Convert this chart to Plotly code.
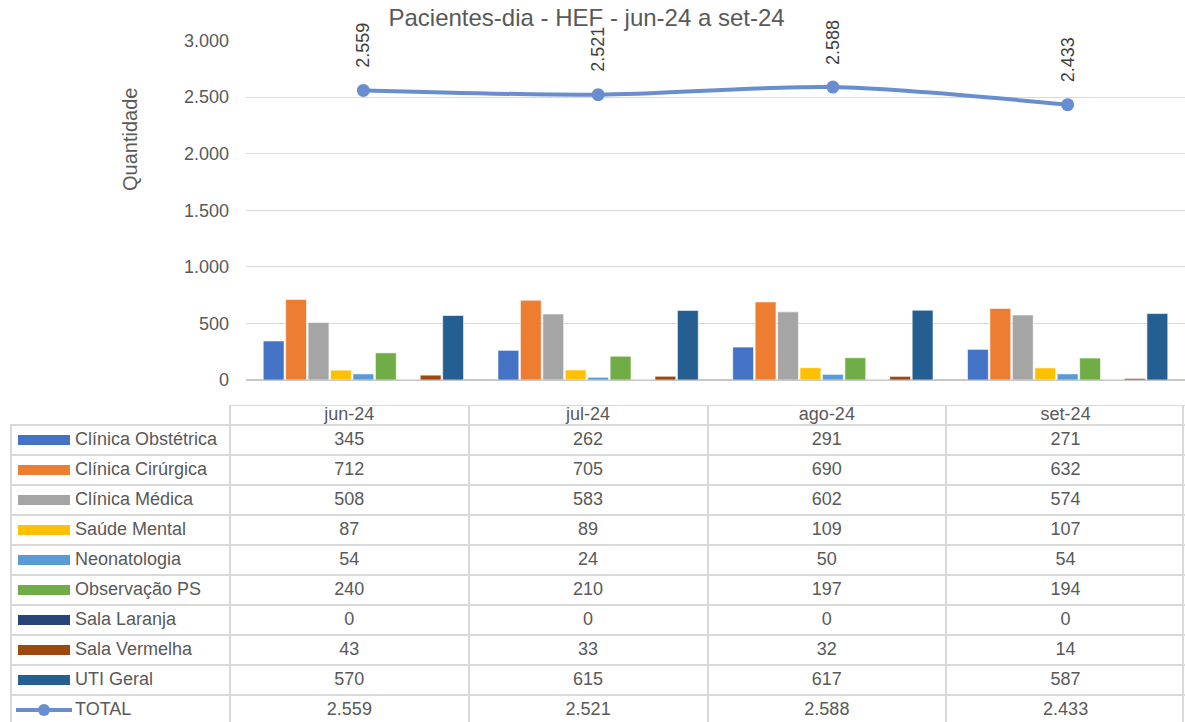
import plotly.graph_objects as go

months = ["jun-24", "jul-24", "ago-24", "set-24"]
series_names = ["Clínica Obstétrica", "Clínica Cirúrgica", "Clínica Médica", "Saúde Mental",
                "Neonatologia", "Observação PS", "Sala Laranja", "Sala Vermelha", "UTI Geral"]
clin_obstetrica = [345, 262, 291, 271]
clin_cirurgica = [712, 705, 690, 632]
clin_medica = [508, 583, 602, 574]
saude_mental = [87, 89, 109, 107]
neonatologia = [54, 24, 50, 54]
observacao_ps = [240, 210, 197, 194]
sala_laranja = [0, 0, 0, 0]
sala_vermelha = [43, 33, 32, 14]
uti_geral = [570, 615, 617, 587]
total = [2559, 2521, 2588, 2433]

series_values = [clin_obstetrica, clin_cirurgica, clin_medica, saude_mental, neonatologia,
                 observacao_ps, sala_laranja, sala_vermelha, uti_geral]
colors = ["#4472C4", "#ED7D31", "#A5A5A5", "#FFC000", "#5B9BD5", "#70AD47",
          "#264478", "#9E480E", "#255E91"]
total_color = "#698ED0"
text_color = "#595959"
grid_color = "#D9D9D9"
FONT = "Liberation Sans, Arial, sans-serif"

W, H = 1185, 722


def fmt(v):
    return f"{v:,}".replace(",", ".")


fig = go.Figure()

# ---- main chart ----
for name, vals, col in zip(series_names, series_values, colors):
    fig.add_trace(go.Bar(x=months, y=vals, name=name,
                         marker=dict(color=col, line=dict(color="rgba(255,255,255,0.6)", width=1)),
                         xaxis="x", yaxis="y", showlegend=False))

fig.add_trace(go.Scatter(x=months, y=total, mode="lines+markers", name="TOTAL",
                         line=dict(color=total_color, width=4, shape="spline", smoothing=0.8),
                         marker=dict(size=13, color=total_color),
                         xaxis="x", yaxis="y", showlegend=False, cliponaxis=False))

annotations = []
for m, t in zip(months, total):
    annotations.append(dict(x=m, y=t, xref="x", yref="y", text=fmt(t), showarrow=False,
                            textangle=-90, yanchor="middle", xanchor="center", yshift=45,
                            font=dict(family=FONT, size=18, color="#404040")))

# ---- table (second axis pair) ----
px_per_col = (W - 230) / len(months)
label_left = -0.5 - (230 - 10) / px_per_col
n_rows = len(series_names) + 1
row_labels = series_names + ["TOTAL"]
row_vals = series_values + [total]
header_top = -0.5 - 20 / 30

xi = list(range(len(months)))
# header
fig.add_trace(go.Scatter(x=xi, y=[-0.5 - 10 / 30] * len(months), mode="text", text=months,
                         textfont=dict(family=FONT, size=18, color=text_color),
                         xaxis="x2", yaxis="y2", showlegend=False, hoverinfo="skip"))
# values
for r, vals in enumerate(row_vals):
    fig.add_trace(go.Scatter(x=xi, y=[r] * len(vals), mode="text", text=[fmt(v) for v in vals],
                             textfont=dict(family=FONT, size=18, color=text_color),
                             xaxis="x2", yaxis="y2", showlegend=False, hoverinfo="skip"))
# row labels
key_x0 = label_left + 8 / px_per_col
key_x1 = label_left + 60 / px_per_col
text_x = label_left + 65 / px_per_col
fig.add_trace(go.Scatter(x=[text_x] * n_rows, y=list(range(n_rows)), mode="text", text=row_labels,
                         textposition="middle right",
                         textfont=dict(family=FONT, size=18, color=text_color),
                         xaxis="x2", yaxis="y2", showlegend=False, hoverinfo="skip"))
# legend keys
for r, col in enumerate(colors):
    fig.add_trace(go.Scatter(x=[key_x0, key_x1], y=[r, r], mode="lines",
                             line=dict(color=col, width=10),
                             xaxis="x2", yaxis="y2", showlegend=False, hoverinfo="skip"))
fig.add_trace(go.Scatter(x=[key_x0 - 2 / px_per_col, key_x1 + 2 / px_per_col], y=[n_rows - 1] * 2, mode="lines",
                         line=dict(color=total_color, width=4),
                         xaxis="x2", yaxis="y2", showlegend=False, hoverinfo="skip"))
fig.add_trace(go.Scatter(x=[(key_x0 + key_x1) / 2], y=[n_rows - 1], mode="markers",
                         marker=dict(color=total_color, size=12),
                         xaxis="x2", yaxis="y2", showlegend=False, hoverinfo="skip"))

shapes = [
    dict(type="line", xref="x2", yref="y2", x0=-0.5, x1=len(months) - 0.5, y0=header_top, y1=header_top,
         line=dict(color=grid_color, width=2)),
    dict(type="line", xref="x2", yref="y2", x0=label_left + 1 / px_per_col, x1=label_left + 1 / px_per_col,
         y0=-0.5, y1=n_rows, line=dict(color=grid_color, width=2)),
    dict(type="line", xref="x2", yref="y2", x0=len(months) - 0.5 - 2 / px_per_col, x1=len(months) - 0.5 - 2 / px_per_col,
         y0=header_top, y1=n_rows, line=dict(color=grid_color, width=2)),
]

fig.update_layout(
    template="none",
    width=W, height=H, autosize=False,
    margin=dict(l=0, r=0, t=0, b=0, pad=0, autoexpand=False),
    paper_bgcolor="white", plot_bgcolor="white",
    title=dict(text="Pacientes-dia - HEF - jun-24 a set-24", x=0.495, xanchor="center", y=1 - 18 / H,
               yanchor="middle", font=dict(family=FONT, size=24, color=text_color)),
    font=dict(family=FONT, color=text_color),
    barmode="group", bargap=0.14, bargroupgap=0.07,
    xaxis=dict(domain=[246 / W, 1], showticklabels=False, showgrid=False, zeroline=False, showline=False,
               automargin=False, ticks=""),
    yaxis=dict(domain=[1 - 380 / H, 1 - 40.5 / H], range=[0, 3000], dtick=500, tickformat=",d",
               showgrid=True, gridcolor=grid_color, gridwidth=1,
               zeroline=True, zerolinecolor="#C8C8C8", zerolinewidth=2, showline=False, ticks="",
               automargin=False, ticklabelstandoff=16,
               tickfont=dict(family=FONT, size=18, color=text_color)),
    xaxis2=dict(domain=[10 / W, 1], range=[label_left, len(months) - 0.5], showticklabels=False,
                tickmode="array", tickvals=[i - 0.5 for i in range(len(months) + 1)], ticks="",
                showgrid=True, gridcolor=grid_color, gridwidth=2, zeroline=False, anchor="y2",
                automargin=False),
    yaxis2=dict(domain=[0, (H - 405) / H], range=[n_rows - 0.6, header_top], showticklabels=False,
                tickmode="array", tickvals=[i - 0.5 for i in range(n_rows + 1)], ticks="",
                showgrid=True, gridcolor=grid_color, gridwidth=2, zeroline=False, anchor="x2",
                automargin=False),
    separators=",.",
    annotations=annotations + [
        dict(text="Quantidade", x=130 / W, y=1 - 140 / H, xref="paper", yref="paper", showarrow=False,
             textangle=-90, xanchor="center", yanchor="middle",
             font=dict(family=FONT, size=20, color=text_color))
    ],
    shapes=shapes,
)

fig.write_html("out.html", config={"displayModeBar": False},
               post_script="document.body.style.margin='0px';document.body.style.overflow='hidden';")
